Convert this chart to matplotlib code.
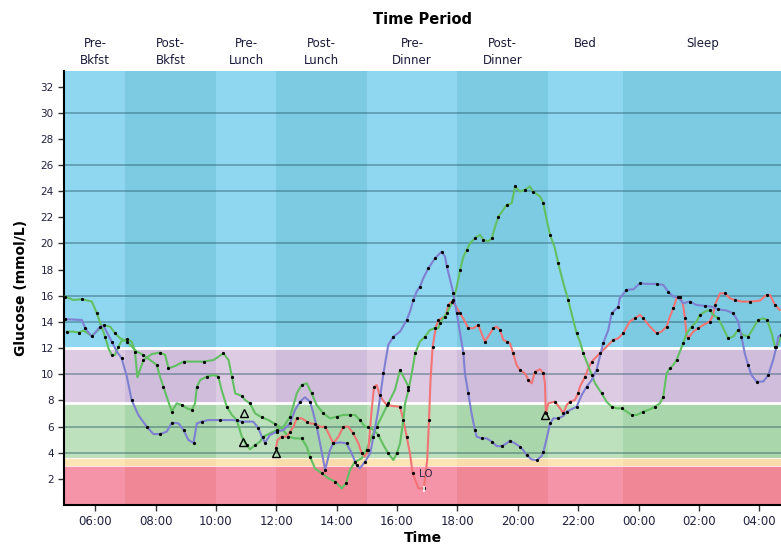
import matplotlib
matplotlib.use("Agg")
import matplotlib.pyplot as plt
import matplotlib.transforms as mtransforms

# glucose traces: (hour of day, mmol/L); hours past 24 are the next morning
purple_pts = [(5.01, 14.21), (5.56, 14.15), (5.67, 13.52), (5.89, 12.88), (6.17, 13.64), (6.28, 13.70),
              (6.55, 12.50), (6.72, 11.73), (6.88, 11.22), (7.05, 9.82), (7.21, 8.03), (7.43, 6.89),
              (7.71, 5.99), (7.93, 5.43), (8.15, 5.43), (8.37, 5.61), (8.54, 6.30), (8.76, 6.25),
              (8.93, 5.74), (9.09, 4.97), (9.26, 4.77), (9.37, 6.25), (9.53, 6.38), (9.75, 6.50),
              (10.14, 6.50), (10.58, 6.50), (10.86, 6.38), (11.24, 6.38), (11.41, 5.87), (11.52, 5.23),
              (11.63, 4.77), (11.79, 5.36), (12.02, 5.61), (12.24, 5.74), (12.46, 6.25), (12.62, 7.27),
              (12.79, 7.91), (12.95, 8.24), (13.12, 7.91), (13.23, 7.01), (13.34, 5.99), (13.45, 4.72),
              (13.62, 2.68), (13.78, 4.21), (13.89, 4.72), (14.11, 4.79), (14.33, 4.72), (14.50, 3.95),
              (14.66, 3.06), (14.77, 2.81), (14.94, 3.32), (15.11, 3.95), (15.22, 5.23), (15.38, 7.27),
              (15.55, 10.07), (15.71, 12.24), (15.88, 12.88), (16.10, 13.26), (16.32, 14.15), (16.43, 14.79),
              (16.54, 15.68), (16.65, 16.32), (16.76, 16.70), (16.87, 17.34), (17.04, 18.11), (17.15, 18.49),
              (17.26, 18.87), (17.37, 19.13), (17.48, 19.38), (17.59, 19.00), (17.65, 18.24), (17.76, 17.21),
              (17.87, 16.19), (17.92, 15.43), (17.98, 14.66), (18.09, 13.13), (18.20, 11.60), (18.25, 10.07),
              (18.36, 8.54), (18.47, 7.01), (18.58, 5.74), (18.64, 5.23), (18.80, 5.10), (18.97, 5.10),
              (19.14, 4.85), (19.30, 4.51), (19.47, 4.51), (19.63, 4.72), (19.74, 4.92), (19.91, 4.72),
              (20.07, 4.46), (20.18, 4.21), (20.29, 3.83), (20.46, 3.49), (20.63, 3.44), (20.79, 3.75),
              (20.85, 4.08), (20.96, 5.10), (21.07, 6.25), (21.18, 6.63), (21.34, 6.63), (21.51, 6.81),
              (21.62, 7.14), (21.78, 7.32), (21.95, 7.52), (22.12, 8.42), (22.28, 9.05), (22.45, 9.56),
              (22.61, 10.33), (22.72, 11.35), (22.83, 12.37), (23.00, 13.39), (23.11, 14.66), (23.22, 14.92),
              (23.33, 15.17), (23.38, 15.81), (23.60, 16.45), (23.83, 16.50), (24.05, 16.96), (24.27, 16.91),
              (24.60, 16.91), (24.82, 16.83), (24.98, 16.32), (25.15, 15.94), (25.32, 15.89), (25.48, 15.43),
              (25.70, 15.56), (25.92, 15.30), (26.20, 15.23), (26.42, 15.17), (26.64, 14.97), (26.92, 14.87),
              (27.14, 14.66), (27.30, 14.03), (27.41, 12.88), (27.52, 11.60), (27.63, 10.71), (27.74, 9.95),
              (27.91, 9.44), (28.13, 9.44), (28.30, 9.95), (28.46, 11.09), (28.57, 12.11), (28.63, 12.88),
              (28.72, 13.01)]

green1_pts = [(5.01, 15.94), (5.28, 15.68), (5.56, 15.74), (5.89, 15.56), (6.06, 14.66), (6.17, 13.90),
              (6.33, 12.88), (6.44, 11.99), (6.55, 11.48), (6.66, 11.48), (6.77, 12.11), (6.88, 12.55),
              (7.05, 12.68), (7.21, 12.50), (7.32, 11.73), (7.40, 9.77), (7.60, 11.09), (7.88, 11.55),
              (8.15, 11.66), (8.32, 11.48), (8.43, 10.46), (8.65, 10.63), (8.93, 10.97), (9.26, 10.97),
              (9.59, 10.97), (9.92, 11.09), (10.25, 11.60), (10.42, 11.09), (10.53, 9.82), (10.64, 8.54),
              (10.86, 8.34), (10.97, 8.03), (11.13, 7.78), (11.30, 7.01), (11.52, 6.71), (11.74, 6.50),
              (11.96, 6.20), (12.18, 5.87), (12.40, 5.23), (12.62, 5.10), (12.84, 5.10), (13.01, 4.46),
              (13.12, 3.70), (13.28, 2.81), (13.51, 2.42), (13.73, 2.04), (13.95, 1.79), (14.17, 1.28),
              (14.31, 1.66), (14.44, 2.68), (14.61, 3.32), (14.83, 3.57), (14.99, 4.21), (15.16, 5.23),
              (15.33, 5.99), (15.49, 6.76), (15.71, 7.78), (15.93, 8.80), (16.10, 10.33), (16.27, 9.56),
              (16.38, 9.05)]

green2_pts = [(5.06, 13.26), (5.28, 13.26), (5.45, 13.19), (5.61, 13.34), (5.89, 12.93), (6.11, 13.39),
              (6.28, 13.77), (6.50, 13.64), (6.66, 13.13), (6.83, 12.75), (7.05, 12.50), (7.38, 11.73),
              (7.60, 11.48), (7.82, 11.09), (8.04, 10.71), (8.15, 9.82), (8.26, 9.05), (8.37, 8.29),
              (8.54, 7.14), (8.70, 7.78), (8.87, 7.65), (9.04, 7.40), (9.20, 7.27), (9.31, 7.78),
              (9.37, 9.05), (9.48, 9.56), (9.70, 9.82), (9.92, 9.95), (10.08, 9.82), (10.19, 8.80),
              (10.36, 7.52), (10.53, 6.89), (10.69, 6.50), (10.86, 5.23), (11.02, 4.59), (11.13, 4.26),
              (11.30, 4.59), (11.46, 4.85), (11.57, 5.23), (11.79, 5.48), (12.02, 5.74), (12.24, 5.99),
              (12.46, 6.76), (12.68, 8.54), (12.84, 9.18), (13.01, 9.31), (13.17, 8.54), (13.34, 7.65),
              (13.56, 7.01), (13.78, 6.63), (14.00, 6.76), (14.22, 6.89), (14.44, 6.89), (14.61, 6.89),
              (14.77, 6.50), (14.94, 5.99), (15.05, 5.99), (15.22, 5.74), (15.38, 5.36), (15.55, 4.59),
              (15.71, 3.95), (15.88, 3.44), (15.99, 3.95), (16.10, 4.72), (16.21, 6.50), (16.27, 7.78),
              (16.38, 8.80), (16.49, 10.07), (16.60, 11.60), (16.76, 12.50), (16.93, 12.88), (17.09, 13.39),
              (17.26, 13.52), (17.37, 13.52), (17.42, 13.90), (17.53, 14.28), (17.65, 14.66), (17.76, 15.17),
              (17.87, 15.68), (17.98, 16.70), (18.09, 17.98), (18.20, 19.00), (18.31, 19.51), (18.42, 20.02),
              (18.58, 20.40), (18.75, 20.66), (18.86, 20.28), (19.02, 20.15), (19.14, 20.40), (19.25, 21.30),
              (19.36, 22.06), (19.52, 22.57), (19.63, 22.95), (19.80, 23.08), (19.91, 24.36), (20.07, 23.97),
              (20.24, 24.10), (20.40, 24.36), (20.51, 23.97), (20.74, 23.59), (20.85, 23.08), (20.90, 22.44),
              (21.07, 20.66), (21.23, 19.64), (21.34, 18.49), (21.51, 16.96), (21.67, 15.68), (21.84, 14.15),
              (21.95, 13.13), (22.06, 12.50), (22.17, 11.60), (22.28, 10.97), (22.45, 9.95), (22.56, 9.31),
              (22.78, 8.54), (22.94, 7.91), (23.11, 7.52), (23.27, 7.40), (23.44, 7.40), (23.61, 7.14),
              (23.77, 6.89), (23.94, 6.89), (24.16, 7.14), (24.38, 7.32), (24.54, 7.52), (24.71, 7.78),
              (24.82, 8.29), (24.93, 10.07), (25.04, 10.46), (25.15, 10.71), (25.26, 11.09), (25.37, 11.73),
              (25.48, 12.37), (25.59, 13.13), (25.76, 13.64), (25.92, 14.03), (26.03, 14.54), (26.20, 14.79),
              (26.36, 14.92), (26.47, 14.54), (26.64, 14.28), (26.81, 13.52), (26.97, 12.75), (27.14, 12.88),
              (27.30, 13.39), (27.47, 13.01), (27.63, 12.88), (27.80, 13.52), (27.96, 14.15), (28.13, 14.28),
              (28.26, 14.15), (28.41, 13.13), (28.52, 12.11), (28.63, 12.24), (28.72, 13.01)]

red_pts = [(11.99, 4.34), (12.04, 4.97), (12.18, 5.23), (12.35, 5.23), (12.46, 5.61), (12.57, 5.99),
           (12.68, 6.63), (12.84, 6.63), (13.01, 6.38), (13.12, 6.25), (13.28, 6.20), (13.45, 5.99),
           (13.62, 5.99), (13.73, 5.48), (13.89, 4.72), (14.06, 5.23), (14.22, 5.99), (14.39, 5.99),
           (14.55, 5.48), (14.72, 4.72), (14.83, 3.95), (14.94, 3.70), (15.05, 4.21), (15.16, 7.27),
           (15.24, 9.05), (15.33, 9.18), (15.42, 8.42), (15.53, 8.03), (15.66, 7.65), (15.88, 7.57),
           (16.10, 7.52), (16.21, 6.50), (16.32, 5.23), (16.43, 3.95), (16.52, 2.42), (16.71, 1.28),
           (16.89, 1.28), (17.00, 3.44), (17.06, 6.50), (17.11, 9.56), (17.18, 12.11), (17.29, 13.64),
           (17.37, 14.15), (17.48, 14.28), (17.59, 14.41), (17.65, 14.79), (17.70, 15.30), (17.76, 15.43),
           (17.81, 15.56), (17.92, 15.30), (18.09, 14.66), (18.25, 14.03), (18.36, 13.52), (18.53, 13.52),
           (18.69, 13.77), (18.80, 13.13), (18.91, 12.50), (19.02, 12.88), (19.19, 13.52), (19.30, 13.64),
           (19.41, 13.39), (19.52, 12.63), (19.63, 12.50), (19.74, 12.37), (19.85, 11.60), (19.96, 10.71),
           (20.07, 10.33), (20.24, 10.07), (20.35, 9.56), (20.46, 9.31), (20.57, 10.20), (20.74, 10.38),
           (20.85, 10.07), (20.90, 9.31), (20.93, 7.01), (21.01, 7.78), (21.23, 7.91), (21.40, 7.40),
           (21.51, 7.01), (21.62, 7.65), (21.73, 7.91), (21.89, 8.03), (22.00, 8.54), (22.06, 9.05),
           (22.23, 9.82), (22.34, 10.46), (22.45, 10.97), (22.61, 11.35), (22.72, 11.60), (22.94, 12.11),
           (23.16, 12.62), (23.33, 12.75), (23.49, 13.13), (23.71, 14.03), (23.88, 14.28), (24.05, 14.54),
           (24.16, 14.28), (24.38, 13.64), (24.60, 13.13), (24.76, 13.26), (24.93, 13.64), (25.04, 14.41),
           (25.15, 15.05), (25.26, 15.81), (25.37, 15.94), (25.48, 15.30), (25.54, 14.28), (25.59, 13.01),
           (25.65, 12.75), (25.81, 13.26), (25.98, 13.52), (26.14, 13.77), (26.36, 14.03), (26.47, 14.54),
           (26.53, 15.30), (26.70, 16.19), (26.86, 16.19), (27.03, 15.81), (27.19, 15.68), (27.41, 15.56),
           (27.69, 15.56), (28.02, 15.63), (28.24, 16.07), (28.35, 16.07), (28.52, 15.30), (28.68, 14.92)]

# event triangles
event_t = [10.93, 10.89, 11.99, 20.90]
event_g = [7.01, 4.85, 4.00, 6.89]

# time periods
period_labels = ['Pre-\nBkfst', 'Post-\nBkfst', 'Pre-\nLunch', 'Post-\nLunch',
                 'Pre-\nDinner', 'Post-\nDinner', 'Bed', 'Sleep']
period_start = [5, 7, 10, 12, 15, 18, 21, 23.5]
period_end = [7, 10, 12, 15, 18, 21, 23.5, 29]

# glucose range bands
band_lo = [0, 3.0, 3.6, 7.8, 12.0]
band_hi = [3.0, 3.6, 7.8, 12.0, 40]
band_light = ['#f593a8', '#fde4b5', '#bde0bd', '#ddcbe4', '#8fd6f0']
band_dark = ['#f08797', '#f8dcac', '#a9d6aa', '#cfbddb', '#7ccbe3']

grid_vals = [4, 6, 10, 14, 16, 20, 24, 26, 30]
y_ticks = list(range(2, 33, 2))
x_ticks = list(range(6, 29, 2))
x_min, x_max = 4.97, 28.72
y_max = 33.2

fig = plt.figure(figsize=(7.81, 5.49), dpi=100)
ax = fig.add_axes([0.082, 0.080, 0.918, 0.791])
ax.set_xlim(x_min, x_max)
ax.set_ylim(0, y_max)

for i in range(len(period_start)):
    cols = band_light if i % 2 == 0 else band_dark
    for lo, hi, c in zip(band_lo, band_hi, cols):
        ax.fill_between([period_start[i], period_end[i]], lo, hi, color=c, lw=0, zorder=0)

for b in [12.0, 7.8]:
    ax.axhline(b, color='white', lw=2, zorder=1)
for b in [3.6, 3.0]:
    ax.axhline(b, color='white', lw=0.8, alpha=0.7, zorder=1)
for g in grid_vals:
    ax.axhline(g, color='#1f4f5f', lw=1.2, alpha=0.45, zorder=1)

line_colors = {'purple': '#7f80d2', 'green': '#62c062', 'red': '#f27474'}
for pts, c in [(green1_pts, line_colors['green']), (red_pts, line_colors['red']),
               (green2_pts, line_colors['green']), (purple_pts, line_colors['purple'])]:
    t, g = zip(*pts)
    ax.plot(t, g, color=c, lw=1.5, zorder=3)
    ax.plot(t[::2], g[::2], ls='none', marker='o', ms=1.3, color='black', zorder=4)

ax.plot(event_t, event_g, ls='none', marker='^', ms=6, mfc='none', mec='black', mew=1.0, zorder=5)
ax.text(16.96, 2.37, 'LO', fontsize=7.5, color='#3a2a4a', ha='center', va='center', zorder=6)
ax.plot([16.89], [1.2], ls='none', marker='|', ms=5, mew=1.2, color='white', zorder=6)

# period header
trans = mtransforms.blended_transform_factory(ax.transData, ax.transAxes)
for lab, s, e in zip(period_labels, period_start, period_end):
    cx = (max(s, x_min) + min(e, x_max)) / 2
    ax.text(cx, 1.077, lab, transform=trans, ha='center', va='top', fontsize=8.5,
            color='#1a1a3a', linespacing=1.4)
ax.text(0.5, 1.118, 'Time Period', transform=ax.transAxes, ha='center', va='center',
        fontsize=10.5, fontweight='bold', color='black')

ax.set_yticks(y_ticks)
ax.set_yticklabels([str(v) for v in y_ticks], fontsize=7.5, color='#202040')
ax.set_xticks(x_ticks)
ax.set_xticklabels(['%02d:00' % (h % 24) for h in x_ticks], fontsize=8.5, color='#202040')
ax.tick_params(axis='both', length=4, width=1, color='#333333')

for side in ['top', 'right']:
    ax.spines[side].set_visible(False)
for side in ['left', 'bottom']:
    ax.spines[side].set_linewidth(1.5)
    ax.spines[side].set_color('black')

ax.set_xlabel('Time', fontsize=10, fontweight='bold', labelpad=2)
ax.set_ylabel('Glucose (mmol/L)', fontsize=10, fontweight='bold', labelpad=9)

fig.savefig('out.png', dpi=100)
